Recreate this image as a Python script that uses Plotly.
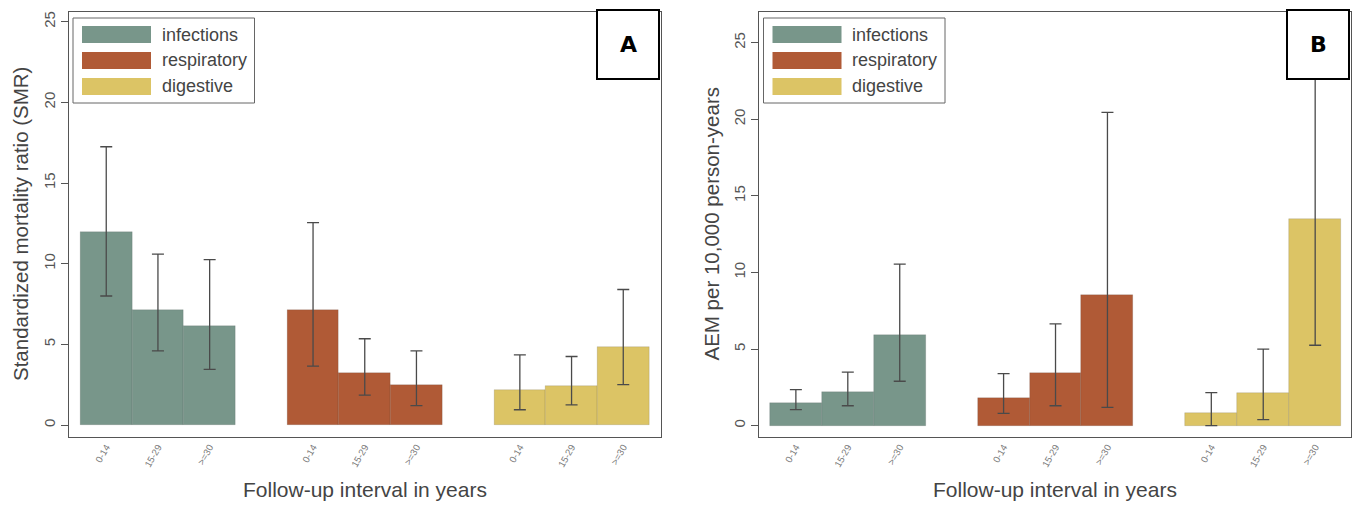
import plotly.graph_objects as go

# ---------------- data ----------------
intervals = ["0-14", "15-29", ">=30"]
causes = ["infections", "respiratory", "digestive"]
colors = ["#78968a", "#b05a36", "#dcc465"]

# Panel A: Standardized mortality ratio (SMR) with 95% CI
smr_infections = [11.95, 7.15, 6.15]
smr_infections_lo = [8.0, 4.6, 3.45]
smr_infections_hi = [17.25, 10.6, 10.25]
smr_respiratory = [7.15, 3.25, 2.5]
smr_respiratory_lo = [3.65, 1.85, 1.2]
smr_respiratory_hi = [12.55, 5.35, 4.6]
smr_digestive = [2.2, 2.4, 4.85]
smr_digestive_lo = [0.95, 1.25, 2.5]
smr_digestive_hi = [4.35, 4.25, 8.4]

# Panel B: AEM per 10,000 person-years with 95% CI
aem_infections = [1.5, 2.2, 5.9]
aem_infections_lo = [1.05, 1.3, 2.9]
aem_infections_hi = [2.35, 3.5, 10.55]
aem_respiratory = [1.8, 3.45, 8.55]
aem_respiratory_lo = [0.8, 1.3, 1.2]
aem_respiratory_hi = [3.4, 6.65, 20.45]
aem_digestive = [0.8, 2.15, 13.5]
aem_digestive_lo = [0.0, 0.4, 5.25]
aem_digestive_hi = [2.15, 5.0, 28.0]

panel_labels = ["A", "B"]
y_titles = ["Standardized mortality ratio (SMR)", "AEM per 10,000 person-years"]
x_title = "Follow-up interval in years"
y_ticks = [0, 5, 10, 15, 20, 25]

smr_series = [
    (smr_infections, smr_infections_lo, smr_infections_hi),
    (smr_respiratory, smr_respiratory_lo, smr_respiratory_hi),
    (smr_digestive, smr_digestive_lo, smr_digestive_hi),
]
aem_series = [
    (aem_infections, aem_infections_lo, aem_infections_hi),
    (aem_respiratory, aem_respiratory_lo, aem_respiratory_hi),
    (aem_digestive, aem_digestive_lo, aem_digestive_hi),
]

FONT = "Liberation Sans, Arial, sans-serif"
W, H = 1357, 506

fig = go.Figure()

all_pos = []
all_txt = []
for g in range(3):
    for k in range(3):
        all_pos.append(g * 4 + k)
        all_txt.append(intervals[k])

for p, series in enumerate([smr_series, aem_series]):
    xa = "x" if p == 0 else "x2"
    ya = "y" if p == 0 else "y2"
    for g, (vals, lo, hi) in enumerate(series):
        xs = [g * 4 + k for k in range(3)]
        fig.add_trace(go.Bar(
            x=xs, y=vals, width=1.0,
            name=causes[g], showlegend=False,
            marker=dict(color=colors[g], line=dict(color="rgba(60,60,60,0.25)", width=0.6)),
            error_y=dict(type="data", symmetric=False,
                         array=[h - v for h, v in zip(hi, vals)],
                         arrayminus=[v - l for v, l in zip(vals, lo)],
                         color="#4a4a4a", thickness=1.3, width=6),
            xaxis=xa, yaxis=ya,
        ))

# frame geometry (pixels)
frames = [
    dict(x0=68.5, x1=661, y0=12, y1=437, yr=[-0.74, 25.6], xr=[-0.73, 10.73]),
    dict(x0=759, x1=1351, y0=12, y1=437, yr=[-0.74, 27.0], xr=[-0.71, 10.69]),
]

axis_common = dict(showline=True, mirror=True, linecolor="#555", linewidth=1,
                   showgrid=False, zeroline=False, automargin=False)

for p, fr in enumerate(frames):
    sx = "" if p == 0 else "2"
    xd = [fr["x0"] / W, fr["x1"] / W]
    yd = [1 - fr["y1"] / H, 1 - fr["y0"] / H]
    fig.layout["xaxis" + sx] = dict(
        domain=xd, range=fr["xr"], anchor="y" + sx,
        tickmode="array", tickvals=all_pos, ticktext=all_txt,
        tickangle=-60, ticks="", tickfont=dict(size=9.5, color="#777", family=FONT),
        **axis_common)
    fig.layout["yaxis" + sx] = dict(
        domain=yd, range=fr["yr"], anchor="x" + sx,
        tickmode="array", tickvals=y_ticks, tickangle=-90,
        ticks="outside", ticklen=7, tickcolor="#555",
        tickfont=dict(size=15, color="#555", family=FONT),
        **axis_common)

    xr = f"x{sx} domain"
    yr = f"y{sx} domain"
    fw = fr["x1"] - fr["x0"]
    fh = fr["y1"] - fr["y0"]

    def dx(px):
        return (px - fr["x0"]) / fw

    def dy(py):
        return 1 - (py - fr["y0"]) / fh

    # legend box
    fig.add_shape(type="rect", xref=xr, yref=yr,
                  x0=dx(fr["x0"] + 4.5), x1=dx(fr["x0"] + 186), y0=dy(103), y1=dy(18),
                  line=dict(color="#666", width=1), fillcolor="white", layer="above")
    for i, c in enumerate(causes):
        top = 26 + 26 * i
        fig.add_shape(type="rect", xref=xr, yref=yr,
                      x0=dx(fr["x0"] + 13.5), x1=dx(fr["x0"] + 82.5),
                      y0=dy(top + 17), y1=dy(top),
                      line=dict(width=0), fillcolor=colors[i], layer="above")
        fig.add_annotation(xref=xr, yref=yr, x=dx(fr["x0"] + 91), y=dy(top + 8.5),
                           text=c, showarrow=False, xanchor="left", yanchor="middle",
                           font=dict(size=18, color="#444", family=FONT))

    # panel label box
    fig.add_shape(type="rect", xref=xr, yref=yr,
                  x0=dx(fr["x1"] - 64), x1=dx(fr["x1"] - 2), y0=dy(79), y1=dy(10),
                  line=dict(color="black", width=2), fillcolor="white", layer="above")
    fig.add_annotation(xref=xr, yref=yr, x=dx(fr["x1"] - 33), y=dy(44.5),
                       text="<b>" + panel_labels[p] + "</b>", showarrow=False,
                       xanchor="center", yanchor="middle",
                       font=dict(size=22, color="black", family="DejaVu Sans, " + FONT))

    # axis titles
    fig.add_annotation(xref="paper", yref="paper",
                       x=(fr["x0"] + fr["x1"]) / 2 / W, y=1 - 489 / H,
                       text=x_title, showarrow=False, xanchor="center", yanchor="middle",
                       font=dict(size=21, color="#444", family=FONT))
    fig.add_annotation(xref="paper", yref="paper",
                       x=(fr["x0"] - 48.5) / W, y=1 - 224 / H,
                       text=y_titles[p], showarrow=False, textangle=-90,
                       xanchor="center", yanchor="middle",
                       font=dict(size=20.5, color="#444", family=FONT))

fig.update_layout(
    width=W, height=H, margin=dict(l=0, r=0, t=0, b=0),
    paper_bgcolor="white", plot_bgcolor="white",
    barmode="overlay", bargap=0, showlegend=False,
    font=dict(family=FONT),
)

fig.write_html("out.html")
